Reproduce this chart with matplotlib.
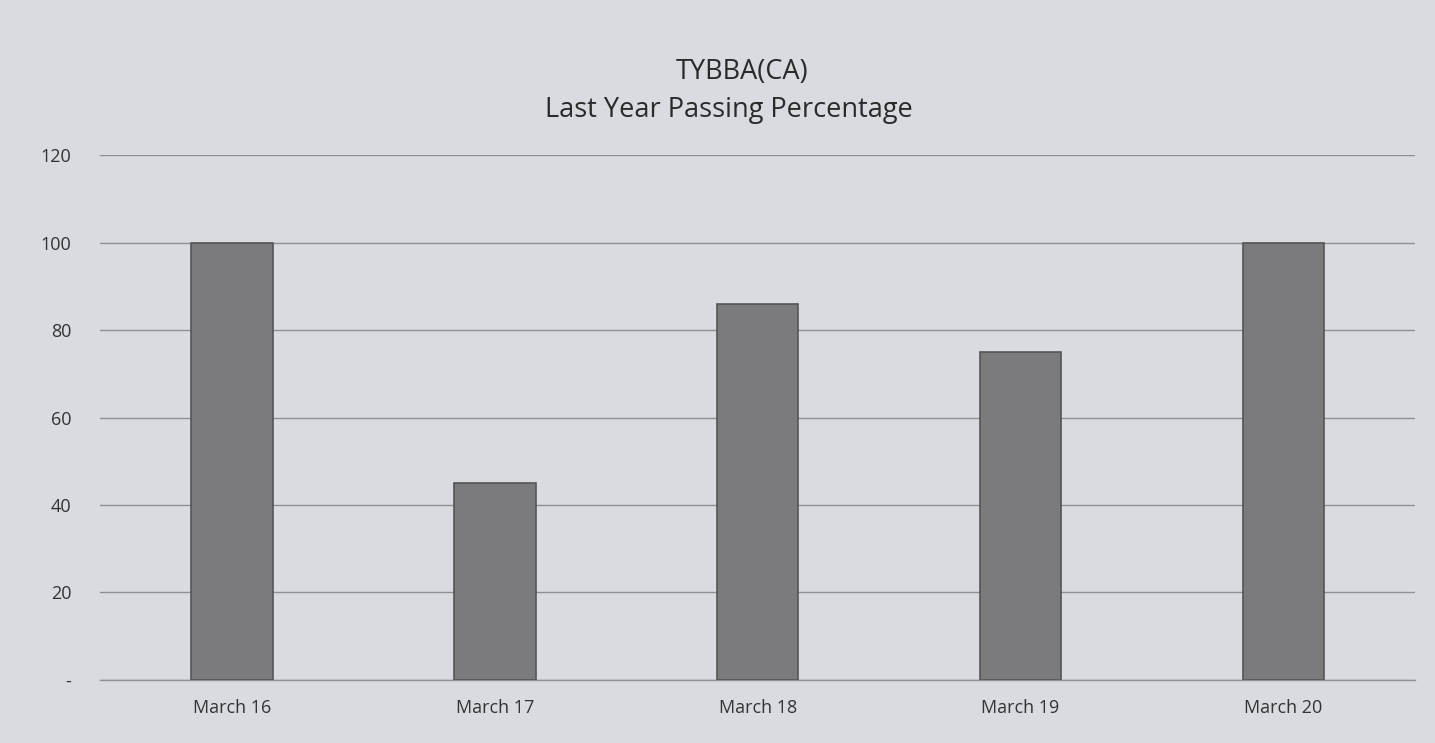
import matplotlib
matplotlib.use("Agg")
import matplotlib.pyplot as plt

categories = ["March 16", "March 17", "March 18", "March 19", "March 20"]
values = [100, 45, 86, 75, 100]
yticks = [0, 20, 40, 60, 80, 100, 120]
ytick_labels = ["-", "20", "40", "60", "80", "100", "120"]
title_line1 = "TYBBA(CA)"
title_line2 = "Last Year Passing Percentage"

plt.rcParams['font.family'] = ['Open Sans', 'DejaVu Sans']

bg = '#d9dbe0'
fig = plt.figure(figsize=(14.35, 7.43), dpi=100, facecolor=bg)
ax = fig.add_axes([0.07, 0.085, 0.916, 0.706], facecolor=bg)

x = range(len(categories))
ax.bar(x, values, width=0.31, color='#7b7b7d', edgecolor='#555557', linewidth=1.2, zorder=3)

ax.set_xlim(-0.5, len(categories) - 0.5)
ax.set_ylim(0, 120)
ax.set_yticks(yticks)
ax.set_yticklabels(ytick_labels, fontsize=13, color='#333333')
ax.set_xticks(list(x))
ax.set_xticklabels(categories, fontsize=13, color='#333333')
ax.tick_params(axis='x', length=0, pad=14)
ax.tick_params(axis='y', length=0, pad=21)
ax.yaxis.grid(True, color='#8f8f91', linewidth=1.0, zorder=0)
ax.axhline(0, color='#8f8f91', linewidth=1.0, zorder=2, clip_on=False)
for s in ax.spines.values():
    s.set_visible(False)

fig.text(0.517, 0.903, title_line1, ha='center', va='center', fontsize=19.5, color='#2a2a2a')
fig.text(0.508, 0.852, title_line2, ha='center', va='center', fontsize=19.5, color='#2a2a2a')

fig.savefig("out.png", dpi=100, facecolor=bg)
